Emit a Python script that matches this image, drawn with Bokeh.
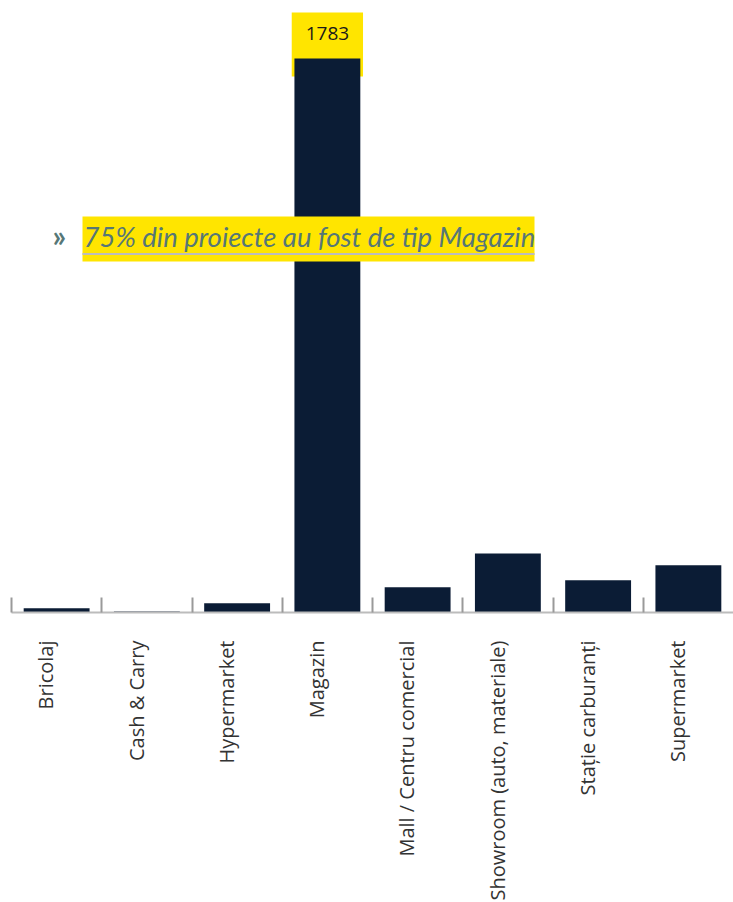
import math
from bokeh.plotting import figure
from bokeh.models import Range1d, FixedTicker, ColumnDataSource, Label, BoxAnnotation
from bokeh.embed import file_html
from bokeh.resources import INLINE

# ---- data ----
categories = ["Bricolaj", "Cash & Carry", "Hypermarket", "Magazin",
              "Mall / Centru comercial", "Showroom (auto, materiale)",
              "Stație carburanți", "Supermarket"]
counts = [14, 3, 30, 1783, 81, 190, 104, 152]

# ---- style ----
BAR = "#0b1c35"
YELLOW = "#ffe500"
TEAL = "#567777"
AXIS_GREY = "#bcbcbc"
TICK_GREY = "#9a9a9a"
LABEL_GREY = "#333333"
FONT = "Open Sans"

n = len(categories)
FRAME_W, FRAME_H = 722, 612
Y_MAX = 1970
PX = Y_MAX / FRAME_H  # data units per pixel

p = figure(frame_width=FRAME_W, frame_height=FRAME_H,
           x_range=Range1d(0, n), y_range=Range1d(0, Y_MAX),
           y_axis_location=None, toolbar_location=None, output_backend="svg",
           min_border_left=11, min_border_right=0, min_border_top=0, min_border_bottom=0)
p.outline_line_color = None
p.xgrid.visible = False
p.ygrid.visible = False
p.background_fill_color = "white"
p.border_fill_color = "white"

xs = [i + 0.5 for i in range(n)]
idx = counts.index(max(counts))

# yellow value box behind the largest bar
p.add_layout(BoxAnnotation(left=xs[idx] - 0.395, right=xs[idx] + 0.395,
                           top=counts[idx] + 46 * PX, bottom=counts[idx] - 18 * PX,
                           fill_color=YELLOW, fill_alpha=1, line_color=None,
                           level="underlay"))

src = ColumnDataSource(dict(x=xs, top=counts, cat=categories))
p.vbar(x="x", top="top", bottom=0, width=0.73, fill_color=BAR, line_color=None, source=src)

# axis: labels at category centres (slightly left), tick marks at boundaries
label_pos = [x - 0.12 for x in xs]
ax = p.xaxis[0]
ax.ticker = FixedTicker(ticks=label_pos, minor_ticks=list(range(n)))
ax.major_label_overrides = {pos: c for pos, c in zip(label_pos, categories)}
ax.major_label_orientation = math.pi / 2
ax.major_label_text_font = FONT
ax.major_label_text_font_size = "20px"
ax.major_label_text_color = LABEL_GREY
ax.major_label_standoff = 28
ax.major_tick_line_color = None
ax.major_tick_in = 0
ax.major_tick_out = 0
ax.minor_tick_line_color = TICK_GREY
ax.minor_tick_line_width = 2
ax.minor_tick_in = 15
ax.minor_tick_out = 0
ax.axis_line_color = AXIS_GREY
ax.axis_line_width = 2

# value label
p.add_layout(Label(x=xs[idx], y=counts[idx], y_offset=25.5, text=str(counts[idx]),
                   text_align="center", text_baseline="middle",
                   text_font=FONT, text_font_size="19px", text_color="#1a1a1a"))

# callout
pct = int(counts[idx] / sum(counts) * 100)
p.add_layout(BoxAnnotation(left=71, right=523, top=396, bottom=351,
                           left_units="screen", right_units="screen",
                           top_units="screen", bottom_units="screen",
                           fill_color=YELLOW, fill_alpha=1, line_color=None))
p.add_layout(BoxAnnotation(left=71, right=523, top=359.5, bottom=357.5,
                           left_units="screen", right_units="screen",
                           top_units="screen", bottom_units="screen",
                           fill_color=AXIS_GREY, fill_alpha=1, line_color=None))
p.add_layout(Label(x=72, y=376, x_units="screen", y_units="screen",
                   text=f"{pct}% din proiecte au fost de tip {categories[idx]}",
                   text_align="left", text_baseline="alphabetic",
                   text_font="Lato", text_font_style="italic", text_font_size="27.5px",
                   text_color=TEAL))
p.add_layout(Label(x=41, y=378, x_units="screen", y_units="screen",
                   text="»", text_align="left", text_baseline="middle",
                   text_font="Lato", text_font_style="bold", text_font_size="30px",
                   text_color=TEAL))

open("out.html", "w").write(file_html(p, INLINE))
